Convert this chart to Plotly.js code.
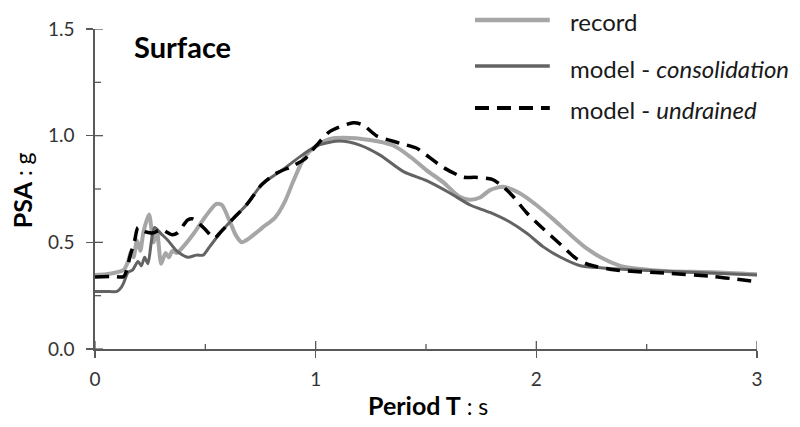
<!DOCTYPE html>
<html>
<head>
<meta charset="utf-8">
<script src="https://cdn.plot.ly/plotly-3.0.1.min.js"></script>
<style>
  html, body { margin: 0; padding: 0; background: #ffffff; }
  #chart { width: 800px; height: 427px; }
</style>
</head>
<body>
<div id="chart"></div>
<script>
// Pseudo-spectral acceleration at the ground surface (PSA in g vs period T in s)

// Recorded response
const recordT = [0.0, 0.05, 0.10, 0.13, 0.15, 0.165, 0.175, 0.19, 0.205, 0.22, 0.245, 0.265, 0.28, 0.30, 0.32, 0.335, 0.35, 0.37, 0.40, 0.45,
  0.50, 0.55, 0.575, 0.61, 0.64, 0.665, 0.70, 0.76, 0.815, 0.86, 0.90, 0.95, 1.00, 1.065, 1.125, 1.245, 1.35, 1.43, 1.50, 1.58,
  1.65, 1.70, 1.745, 1.79, 1.85, 1.925, 2.00, 2.075, 2.15, 2.23, 2.30, 2.38, 2.47, 2.60, 2.80, 3.00];
const recordPSA = [0.347, 0.35, 0.36, 0.37, 0.41, 0.46, 0.43, 0.51, 0.46, 0.55, 0.63, 0.50, 0.56, 0.40, 0.45, 0.43, 0.46, 0.45, 0.48, 0.545,
  0.62, 0.68, 0.675, 0.60, 0.53, 0.50, 0.52, 0.57, 0.615, 0.69, 0.79, 0.90, 0.95, 0.985, 0.99, 0.98, 0.955, 0.90, 0.84, 0.78,
  0.715, 0.70, 0.71, 0.745, 0.76, 0.73, 0.675, 0.61, 0.54, 0.47, 0.425, 0.39, 0.375, 0.365, 0.36, 0.35];

// Model with consolidation
const consolT = [0.0, 0.05, 0.10, 0.12, 0.13, 0.15, 0.17, 0.195, 0.21, 0.225, 0.24, 0.255, 0.27, 0.30, 0.33, 0.37, 0.42, 0.46, 0.49, 0.52,
  0.58, 0.625, 0.69, 0.755, 0.85, 0.94, 1.01, 1.11, 1.20, 1.29, 1.40, 1.50, 1.61, 1.70, 1.79, 1.88, 1.96, 2.03, 2.11, 2.20,
  2.30, 2.46, 2.70, 3.00];
const consolPSA = [0.27, 0.27, 0.27, 0.29, 0.31, 0.36, 0.37, 0.41, 0.39, 0.43, 0.40, 0.50, 0.57, 0.54, 0.51, 0.46, 0.43, 0.44, 0.44, 0.48,
  0.56, 0.61, 0.68, 0.77, 0.84, 0.91, 0.955, 0.975, 0.956, 0.91, 0.83, 0.79, 0.73, 0.675, 0.64, 0.595, 0.54, 0.48, 0.43, 0.39,
  0.38, 0.37, 0.36, 0.347];

// Undrained model
const undrT = [0.0, 0.08, 0.13, 0.16, 0.18, 0.195, 0.225, 0.265, 0.30, 0.35, 0.375, 0.42, 0.445, 0.46, 0.50, 0.54, 0.58, 0.625, 0.69, 0.755,
  0.815, 0.90, 0.95, 1.00, 1.065, 1.17, 1.215, 1.275, 1.38, 1.46, 1.50, 1.58, 1.67, 1.72, 1.80, 1.85, 1.895, 1.955, 2.03, 2.11,
  2.18, 2.24, 2.36, 2.60, 2.80, 3.00];
const undrPSA = [0.337, 0.34, 0.34, 0.44, 0.51, 0.57, 0.55, 0.545, 0.56, 0.535, 0.545, 0.605, 0.61, 0.60, 0.56, 0.52, 0.56, 0.61, 0.68, 0.77,
  0.82, 0.86, 0.89, 0.95, 1.02, 1.06, 1.05, 1.00, 0.965, 0.94, 0.91, 0.85, 0.805, 0.805, 0.795, 0.76, 0.715, 0.64, 0.565, 0.49,
  0.425, 0.395, 0.37, 0.355, 0.34, 0.315];

const seriesNames = ['record', 'model - <i>consolidation</i>', 'model - <i>undrained</i>'];
const xTickVals = [0, 1, 2, 3];
const xTickText = ['0', '1', '2', '3'];
const yTickVals = [0, 0.5, 1.0, 1.5];
const yTickText = ['0.0', '0.5', '1.0', '1.5'];

const FONT = 'Lato, "Open Sans", sans-serif';
const AXIS_COL = '#595959';
const colors = ['#a6a6a6', '#636363', '#000000'];
const widths = [4, 3, 3.5];
const dashes = ['solid', 'solid', '14px,8px'];

const traces = [
  { x: recordT, y: recordPSA },
  { x: consolT, y: consolPSA },
  { x: undrT, y: undrPSA }
].map((d, i) => ({
  type: 'scatter', mode: 'lines', x: d.x, y: d.y, name: seriesNames[i],
  line: { color: colors[i], width: widths[i], dash: dashes[i], shape: 'spline', smoothing: 0.7 },
  showlegend: false, hoverinfo: 'skip'
}));

// Plot-area size in px, used to turn tick lengths into paper fractions
const PLOT_W = 800 - 95 - 43;
const PLOT_H = 427 - 29 - 78;
const shapes = [];
const tickLine = { color: AXIS_COL, width: 1.3 };

// Inner halves of the major ticks (outer halves come from the axes) and the minor ticks in between
xTickVals.forEach((v, i) => {
  shapes.push({ type: 'line', layer: 'above', xref: 'x', yref: 'paper', x0: v, x1: v, y0: 0, y1: 8 / PLOT_H, line: tickLine });
  if (i < xTickVals.length - 1) {
    const m = (v + xTickVals[i + 1]) / 2;
    shapes.push({ type: 'line', layer: 'above', xref: 'x', yref: 'paper', x0: m, x1: m, y0: 0, y1: 5 / PLOT_H, line: tickLine });
  }
});
yTickVals.forEach((v, i) => {
  shapes.push({ type: 'line', layer: 'above', xref: 'paper', yref: 'y', x0: 0, x1: 8 / PLOT_W, y0: v, y1: v, line: tickLine });
  if (i < yTickVals.length - 1) {
    const m = (v + yTickVals[i + 1]) / 2;
    shapes.push({ type: 'line', layer: 'above', xref: 'paper', yref: 'y', x0: 0, x1: 6 / PLOT_W, y0: m, y1: m, line: tickLine });
  }
});

// Hand-built legend: key lines and labels at the upper right
const legendRows = [1.028, 0.884, 0.753];
const annotations = [];
legendRows.forEach((yy, i) => {
  shapes.push({
    type: 'line', xref: 'paper', yref: 'paper', x0: 0.574, x1: 0.687, y0: yy, y1: yy,
    line: { color: colors[i], width: widths[i] + 0.5, dash: dashes[i] }
  });
  annotations.push({
    xref: 'paper', yref: 'paper', x: 0.7145, y: yy - 0.006, xanchor: 'left', yanchor: 'middle',
    text: seriesNames[i], showarrow: false, font: { family: FONT, size: 24, color: '#1a1a1a' }
  });
});

annotations.push({
  xref: 'paper', yref: 'paper', x: 0.056, y: 0.944, xanchor: 'left', yanchor: 'middle',
  text: '<b>Surface</b>', showarrow: false, font: { family: FONT, size: 29, color: '#000000' }
});
annotations.push({
  xref: 'paper', yref: 'paper', x: -0.110, y: 0.497, xanchor: 'center', yanchor: 'middle', textangle: -90,
  text: '<b>PSA</b><span style="font-size:23px"> : g</span>', showarrow: false,
  font: { family: FONT, size: 25, color: '#000000' }
});
annotations.push({
  xref: 'paper', yref: 'paper', x: 0.503, y: -0.175, xanchor: 'center', yanchor: 'middle',
  text: '<b>Period T</b><span style="font-size:23px"> : s</span>', showarrow: false,
  font: { family: FONT, size: 25, color: '#000000' }
});

const layout = {
  width: 800, height: 427,
  margin: { l: 95, r: 43, t: 29, b: 78, pad: 0 },
  paper_bgcolor: '#ffffff', plot_bgcolor: '#ffffff',
  showlegend: false,
  xaxis: {
    range: [0, 3], tickvals: xTickVals, ticktext: xTickText,
    ticks: 'outside', ticklen: 7, tickwidth: 1.3, tickcolor: AXIS_COL,
    showline: true, linecolor: AXIS_COL, linewidth: 1.6,
    showgrid: false, zeroline: false, fixedrange: true,
    tickfont: { family: FONT, size: 19, color: '#333333' }, ticklabelstandoff: 6
  },
  yaxis: {
    range: [0, 1.5], tickvals: yTickVals, ticktext: yTickText,
    ticks: 'outside', ticklen: 7, tickwidth: 1.3, tickcolor: AXIS_COL,
    showline: true, linecolor: AXIS_COL, linewidth: 1.6,
    showgrid: false, zeroline: false, fixedrange: true,
    tickfont: { family: FONT, size: 19, color: '#333333' }, ticklabelstandoff: 8
  },
  shapes: shapes,
  annotations: annotations
};

Plotly.newPlot('chart', traces, layout, { displayModeBar: false, staticPlot: true });
</script>
</body>
</html>
